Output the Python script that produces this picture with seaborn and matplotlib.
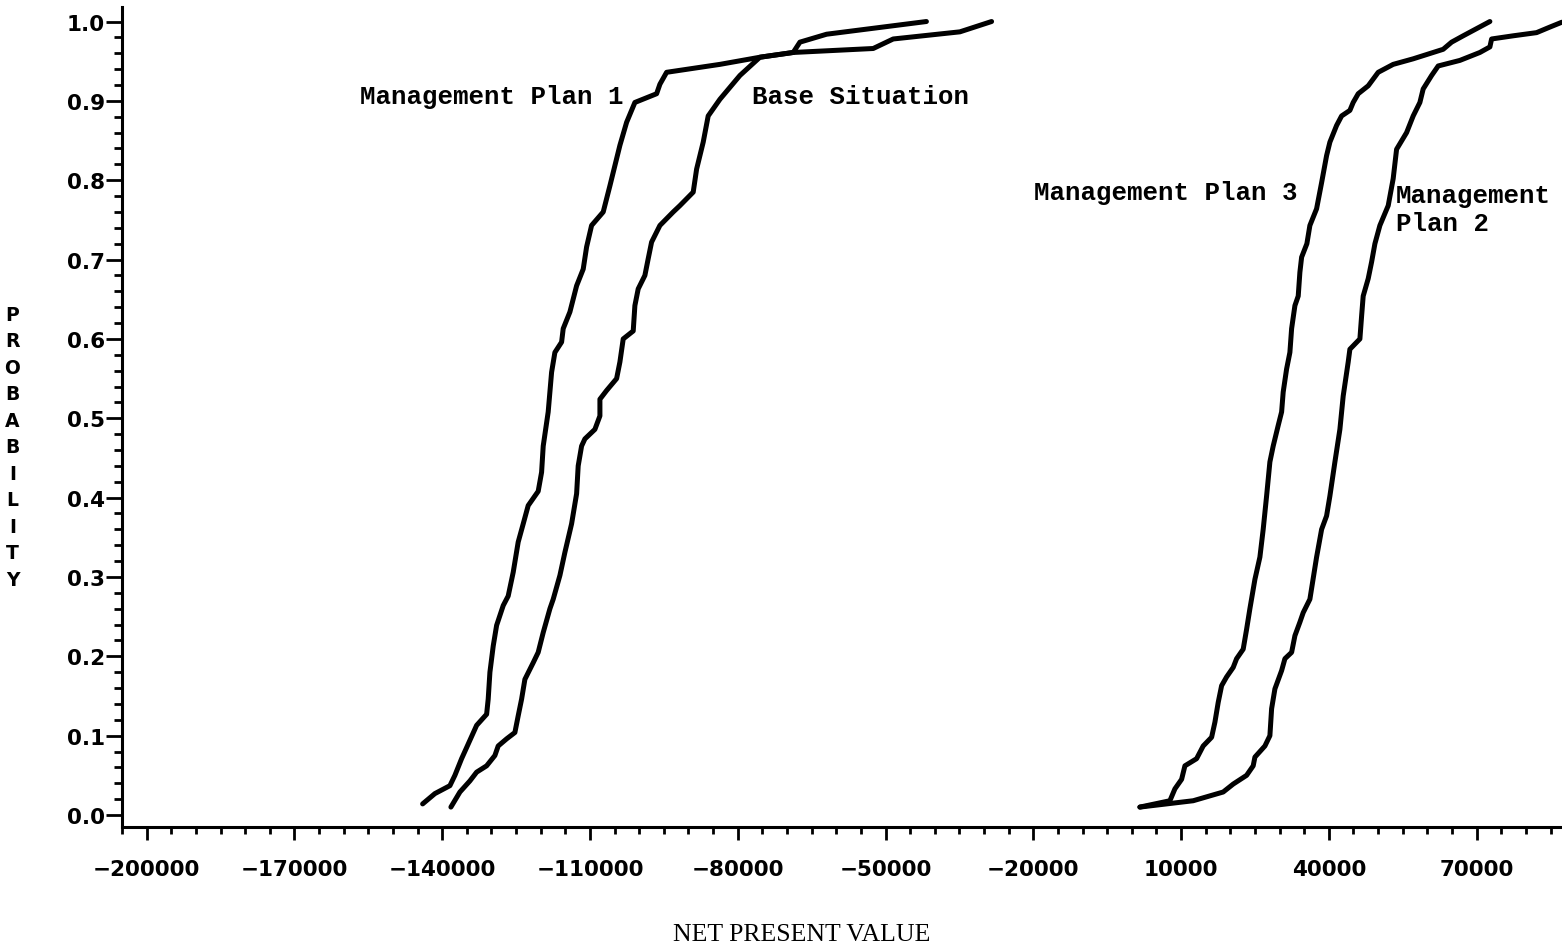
import matplotlib
matplotlib.use("Agg")
import matplotlib.pyplot as plt
from matplotlib.ticker import FixedLocator, MultipleLocator
import pandas as pd
import seaborn as sns

# Cumulative probability of net present value for each scenario
base_npv = [-138230, -136400, -134370, -133010, -130980, -129300, -128630, -126920, -125240,
            -124570, -123880, -123210, -121520, -120510, -119490, -118130, -117460, -116100,
            -115090, -113730, -112710, -112390, -111700, -111030, -109000, -107980, -107980,
            -106620, -104590, -103920, -103250, -101220, -100880, -100210, -98850, -98180,
            -97490, -95800, -93100, -91740, -89040, -88350, -87010, -86000, -83620, -79560,
            -75500, -68740, -52500, -48440, -34900, -28470]
base_prob = [0.010, 0.029, 0.043, 0.054, 0.062, 0.075, 0.087, 0.096, 0.104, 0.125, 0.146, 0.171,
             0.192, 0.205, 0.230, 0.260, 0.272, 0.302, 0.331, 0.367, 0.405, 0.440, 0.465, 0.474,
             0.486, 0.503, 0.524, 0.535, 0.550, 0.571, 0.600, 0.610, 0.642, 0.663, 0.680, 0.701,
             0.722, 0.743, 0.760, 0.768, 0.785, 0.814, 0.848, 0.881, 0.902, 0.932, 0.955, 0.961,
             0.966, 0.978, 0.987, 1.000]

plan1_npv = [-143970, -141480, -138430, -137420, -136060, -135040, -133010, -130980, -130660,
             -130310, -129640, -128950, -127610, -126600, -125580, -124570, -123550, -122540,
             -120510, -119820, -119490, -118480, -117790, -117120, -115760, -115430, -114070,
             -112710, -111370, -110680, -109670, -107310, -105950, -103920, -102560, -100880,
             -96470, -95800, -94440, -83620, -75500, -68740, -67380, -61960, -41700]
plan1_prob = [0.014, 0.027, 0.037, 0.050, 0.071, 0.085, 0.113, 0.127, 0.146, 0.180, 0.213, 0.239,
              0.264, 0.276, 0.306, 0.344, 0.367, 0.390, 0.408, 0.432, 0.465, 0.508, 0.558, 0.583,
              0.596, 0.613, 0.634, 0.667, 0.688, 0.716, 0.743, 0.760, 0.793, 0.844, 0.873, 0.898,
              0.909, 0.921, 0.936, 0.946, 0.955, 0.961, 0.974, 0.984, 1.000]

plan2_npv = [1640, 12460, 18550, 20580, 23300, 24640, 24990, 27020, 28030, 28380, 29050, 30410,
             31080, 32440, 33110, 34120, 34790, 36150, 37510, 38530, 39540, 40210, 41230, 42240,
             42910, 43930, 44270, 46300, 46650, 46970, 47990, 48680, 49350, 50360, 52050, 53060,
             53750, 55780, 57120, 58480, 59150, 60860, 62200, 66600, 70660, 72690, 73040, 77420,
             82170, 84870, 87250, 89000]
plan2_prob = [0.010, 0.018, 0.029, 0.039, 0.050, 0.062, 0.073, 0.087, 0.100, 0.134, 0.159, 0.182,
              0.197, 0.205, 0.226, 0.243, 0.255, 0.272, 0.325, 0.360, 0.377, 0.402, 0.445, 0.486,
              0.528, 0.571, 0.587, 0.600, 0.629, 0.654, 0.676, 0.697, 0.720, 0.743, 0.768, 0.802,
              0.839, 0.860, 0.881, 0.898, 0.915, 0.932, 0.944, 0.951, 0.961, 0.968, 0.978, 0.982,
              0.986, 0.993, 0.999, 1.000]

plan3_npv = [1640, 7730, 8750, 10110, 10780, 13150, 14490, 16200, 16870, 17540, 18230, 19240,
             20580, 21270, 22610, 23300, 23970, 24990, 26000, 26670, 27360, 28030, 28700, 29720,
             30410, 30730, 31420, 32090, 32440, 33110, 33780, 34120, 34470, 35540, 36150, 37510,
             38530, 39540, 40210, 41570, 42590, 44270, 44940, 45960, 47990, 50020, 53060, 57120,
             63210, 64920, 67270, 72690]
plan3_prob = [0.010, 0.018, 0.033, 0.045, 0.062, 0.071, 0.087, 0.098, 0.117, 0.142, 0.163, 0.174,
              0.186, 0.197, 0.209, 0.234, 0.260, 0.297, 0.325, 0.360, 0.402, 0.445, 0.465, 0.491,
              0.508, 0.533, 0.562, 0.583, 0.613, 0.642, 0.654, 0.684, 0.703, 0.720, 0.743, 0.764,
              0.797, 0.831, 0.848, 0.869, 0.881, 0.888, 0.898, 0.909, 0.919, 0.936, 0.946, 0.953,
              0.965, 0.974, 0.982, 1.000]

x_tick_values = [-200000, -170000, -140000, -110000, -80000, -50000, -20000, 10000, 40000, 70000]
x_tick_labels = ["\u2212200000", "\u2212170000", "\u2212140000", "\u2212110000", "\u221280000",
                 "\u221250000", "\u221220000", "10000", "40000", "70000"]
y_tick_values = [0.0, 0.1, 0.2, 0.3, 0.4, 0.5, 0.6, 0.7, 0.8, 0.9, 1.0]
y_tick_labels = ["0.0", "0.1", "0.2", "0.3", "0.4", "0.5", "0.6", "0.7", "0.8", "0.9", "1.0"]

curve_labels = ["Base Situation", "Management Plan 1", "Management\nPlan 2", "Management Plan 3"]
label_npv = [-77100, -156700, 53600, -19900]
label_prob = [0.906, 0.906, 0.764, 0.785]

frames = []
for name, xs, ps in [("base", base_npv, base_prob), ("plan1", plan1_npv, plan1_prob),
                     ("plan2", plan2_npv, plan2_prob), ("plan3", plan3_npv, plan3_prob)]:
    frames.append(pd.DataFrame({"npv": xs, "probability": ps, "scenario": name}))
curves = pd.concat(frames, ignore_index=True)

sns.set_style("ticks")
plt.rcParams["font.family"] = ["DejaVu Sans"]
plt.rcParams["text.color"] = "black"
plt.rcParams["axes.labelcolor"] = "black"
plt.rcParams["xtick.color"] = "black"
plt.rcParams["ytick.color"] = "black"

W, H = 1562, 945
fig = plt.figure(figsize=(W / 100, H / 100), dpi=100)
ax = fig.add_axes([122 / W, 117 / H, 1440 / W, 820 / H])

sns.lineplot(data=curves, x="npv", y="probability", units="scenario", estimator=None,
             sort=False, color="black", linewidth=3.6, ax=ax, legend=False)
for line in ax.lines:
    line.set_solid_capstyle("round")
    line.set_solid_joinstyle("round")

ax.set_xlim(-205000, 87330)
ax.set_ylim(-0.0151, 1.0183)

ax.xaxis.set_major_locator(FixedLocator(x_tick_values))
ax.set_xticklabels(x_tick_labels, fontweight="bold", fontsize=15.5)
ax.xaxis.set_minor_locator(MultipleLocator(5000))
ax.yaxis.set_major_locator(FixedLocator(y_tick_values))
ax.set_yticklabels(y_tick_labels, fontweight="bold", fontsize=15.5)
ax.yaxis.set_minor_locator(MultipleLocator(0.02))

ax.tick_params(axis="x", which="major", length=9.4, width=2, pad=14, color="black")
ax.tick_params(axis="x", which="minor", length=5, width=2, color="black")
ax.tick_params(axis="y", which="major", length=11.5, width=2, pad=1, color="black")
ax.tick_params(axis="y", which="minor", length=5.8, width=2, color="black")

sns.despine(ax=ax)
for side in ("left", "bottom"):
    ax.spines[side].set_linewidth(2.2)
    ax.spines[side].set_color("black")

ax.set_xlabel("NET PRESENT VALUE", family="Liberation Serif", fontsize=18.5, va="center")
ax.xaxis.set_label_coords(0.472, -0.13)
ax.set_ylabel("\n".join("PROBABILITY"), rotation=0, fontweight="bold", fontsize=13.5,
              linespacing=1.5, ha="center", va="center")
ax.yaxis.set_label_coords(-0.076, 0.464)

for text, xv, pv in zip(curve_labels, label_npv, label_prob):
    ax.text(xv, pv, text, family="Liberation Mono", fontweight="bold", fontsize=18.5,
            ha="left", va="center", linespacing=1.2, color="black")

fig.savefig("out.png", dpi=100, facecolor="white")
